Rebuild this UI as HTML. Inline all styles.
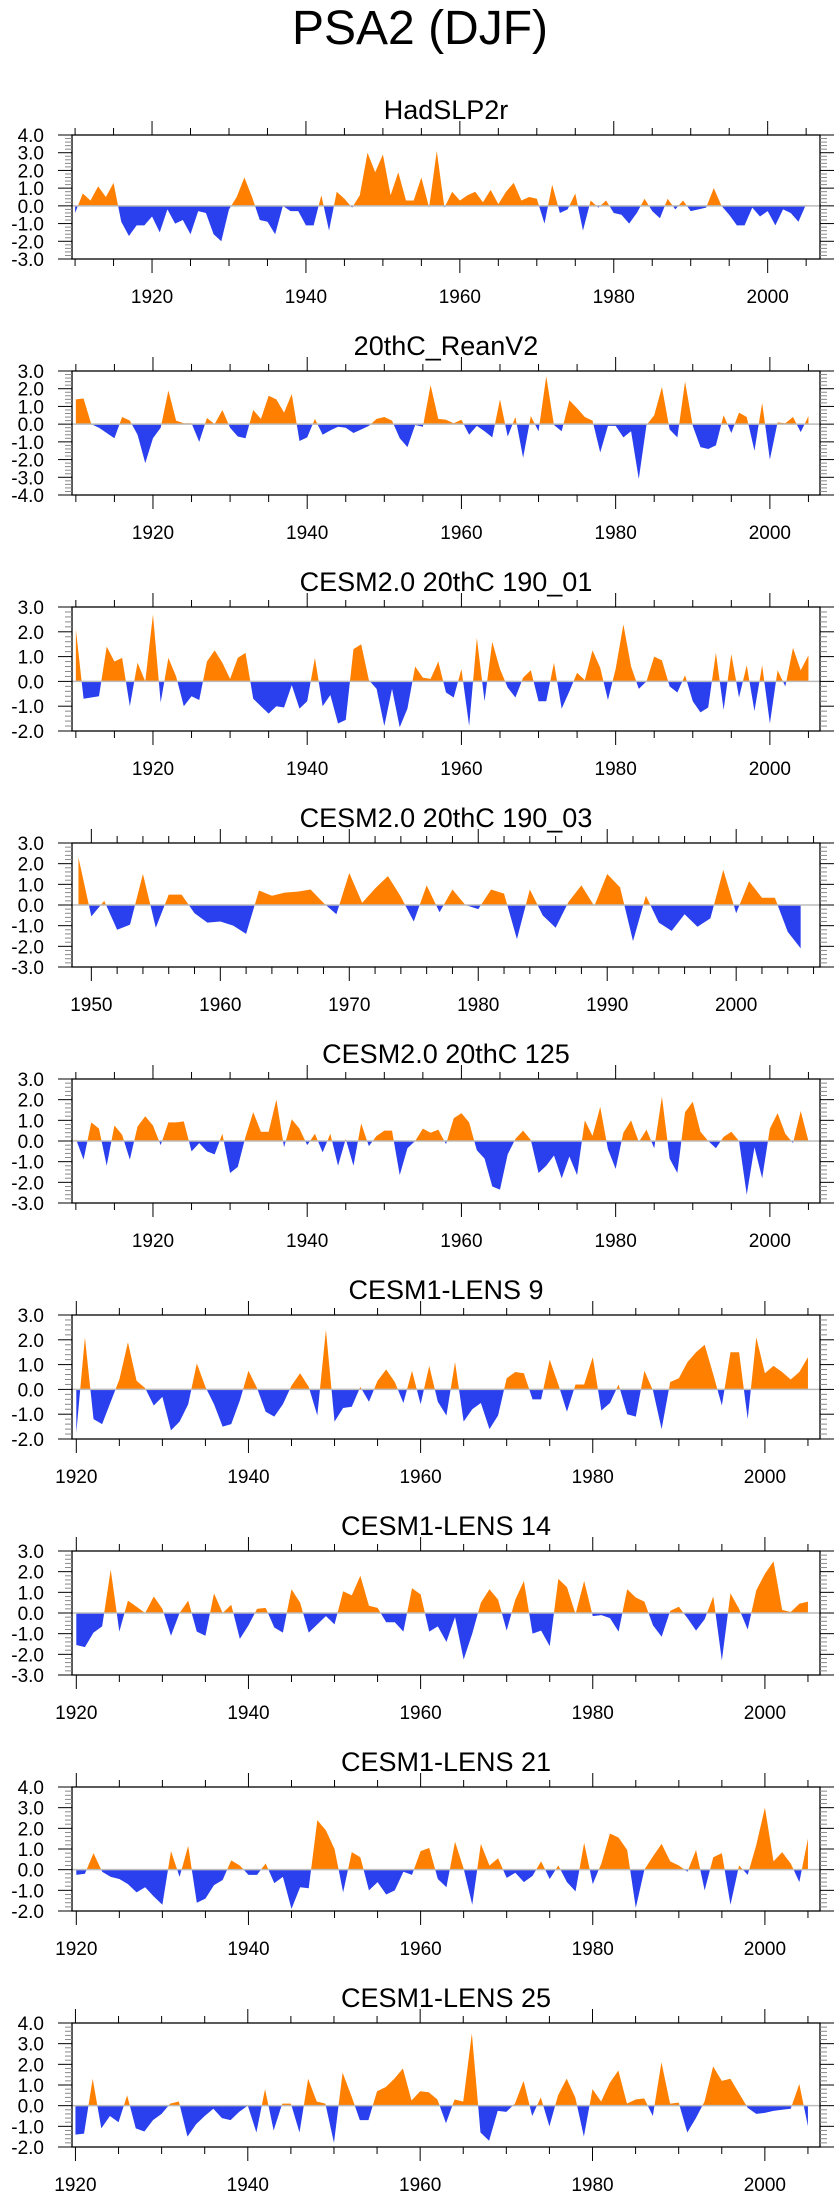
<!DOCTYPE html>
<html><head><meta charset="utf-8"><title>PSA2 (DJF)</title>
<style>
html,body{margin:0;padding:0;background:#fff;}
svg{display:block;font-family:"Liberation Sans",sans-serif;}
</style></head>
<body>
<svg id="chart" width="840" height="2200" viewBox="0 0 840 2200" xmlns="http://www.w3.org/2000/svg">
<text x="420" y="44" font-size="48" text-anchor="middle">PSA2 (DJF)</text>
</svg>
<script>
// ---- data (one value per DJF season) ----
const titles = ["HadSLP2r","20thC_ReanV2","CESM2.0 20thC 190_01","CESM2.0 20thC 190_03","CESM2.0 20thC 125","CESM1-LENS 9","CESM1-LENS 14","CESM1-LENS 21","CESM1-LENS 25"];
const startYears = [1910,1910,1910,1949,1910,1920,1920,1920,1920];
const yTickMax = [4,3,3,3,3,3,3,4,4];
const yTickMin = [-3,-4,-2,-3,-3,-2,-3,-2,-2];
const xDomainMin = [1909.6,1909.5,1909.5,1948.5,1909.5,1919.5,1919.5,1919.5,1919.6];
const xDomainMax = [2006.8,2006.5,2006.5,2006.5,2006.5,2006.4,2006.4,2006.4,2006.4];
const xMajorStep = [20,20,20,10,20,20,20,20,20];
const xMinorStep = [5,5,5,2,5,5,5,5,5];
const xLabelStart = [1920,1920,1920,1950,1920,1920,1920,1920,1920];

const hadValues = [-0.4,0.7,0.3,1.1,0.5,1.3,-0.9,-1.7,-1.1,-1.1,-0.6,-1.5,-0.2,-1.0,-0.8,-1.6,-0.3,-0.4,-1.6,-2.0,-0.2,0.5,1.6,0.5,-0.8,-0.9,-1.6,0.0,-0.3,-0.3,-1.1,-1.1,0.6,-1.4,0.8,0.4,-0.1,0.6,3.0,1.9,2.9,0.6,1.9,0.3,0.3,1.6,-0.1,3.1,-0.1,0.8,0.3,0.6,0.8,0.2,0.9,0.1,0.8,1.3,0.3,0.5,0.4,-1.0,1.2,-0.4,-0.2,0.7,-1.4,0.3,-0.1,0.3,-0.4,-0.5,-1.0,-0.4,0.4,-0.3,-0.7,0.4,-0.2,0.3,-0.3,-0.2,-0.1,1.0,0.0,-0.5,-1.1,-1.1,-0.1,-0.6,-0.3,-1.1,-0.2,-0.4,-0.9,0.1];
const reanValues = [1.4,1.45,0.0,-0.2,-0.5,-0.8,0.4,0.2,-0.6,-2.2,-0.8,-0.2,1.9,0.2,0.05,0.05,-1.0,0.35,0.0,0.8,-0.2,-0.7,-0.8,0.8,0.3,1.6,1.4,0.65,1.7,-0.95,-0.75,0.3,-0.6,-0.35,-0.15,-0.2,-0.5,-0.3,-0.1,0.3,0.4,0.2,-0.8,-1.3,-0.05,-0.15,2.2,0.3,0.25,0.05,0.25,-0.6,-0.1,-0.4,-0.75,1.4,-0.7,0.4,-1.9,0.45,-0.4,2.7,-0.05,-0.4,1.35,0.9,0.4,0.2,-1.6,-0.1,-0.1,-0.75,-0.4,-3.1,-0.05,0.5,2.1,-0.3,-0.75,2.4,-0.1,-1.3,-1.4,-1.2,0.5,-0.5,0.65,0.4,-1.5,1.2,-2.0,0.1,0.05,0.4,-0.45,0.45];
const cesm2Run01Values = [2.1,-0.7,-0.65,-0.6,1.4,0.8,0.95,-1.0,0.75,0.0,2.7,-0.85,0.95,0.2,-1.0,-0.6,-0.75,0.8,1.25,0.75,0.1,0.95,1.15,-0.7,-1.0,-1.3,-1.0,-1.05,-0.15,-1.1,-0.8,0.95,-1.0,-0.55,-1.7,-1.55,1.3,1.5,0.05,-0.3,-1.8,-0.3,-1.85,-1.1,0.6,0.15,0.1,0.8,-0.45,-0.65,0.5,-1.8,1.75,-0.8,1.6,0.5,-0.25,-0.65,0.15,0.45,-0.8,-0.8,0.75,-1.1,-0.4,0.35,0.05,1.25,0.55,-0.75,0.5,2.3,0.6,-0.3,0.0,1.0,0.85,-0.2,-0.45,0.25,-0.8,-1.25,-1.05,1.15,-1.15,1.1,-0.65,0.65,-1.2,0.65,-1.7,0.45,-0.2,1.35,0.45,1.05];
const cesm2Run03Values = [2.3,-0.55,0.2,-1.2,-0.95,1.5,-1.1,0.5,0.5,-0.4,-0.85,-0.8,-1.0,-1.4,0.7,0.45,0.6,0.65,0.75,0.1,-0.45,1.55,0.1,0.8,1.4,0.4,-0.8,0.95,-0.35,0.75,0.0,-0.2,0.75,0.55,-1.65,0.75,-0.5,-1.1,0.15,0.95,-0.05,1.5,0.85,-1.75,0.45,-0.85,-1.25,-0.45,-1.05,-0.65,1.7,-0.4,1.15,0.35,0.35,-1.3,-2.1];
const cesm2Run125Values = [0.1,-0.9,0.9,0.6,-1.2,0.75,0.3,-0.9,0.7,1.2,0.75,-0.2,0.9,0.9,0.95,-0.5,-0.1,-0.5,-0.65,0.35,-1.55,-1.25,0.2,1.4,0.45,0.45,2.0,-0.3,1.05,0.6,-0.2,0.35,-0.55,0.35,-1.2,0.1,-1.2,0.85,-0.25,0.25,0.5,0.5,-1.65,-0.35,0.0,0.6,0.4,0.55,-0.15,1.1,1.35,0.9,-0.45,-0.85,-2.2,-2.35,-0.65,0.1,0.5,0.05,-1.55,-1.2,-0.7,-1.8,-0.75,-1.65,1.0,0.25,1.65,-0.4,-1.35,0.4,1.0,-0.05,0.55,-0.35,2.15,-0.85,-1.55,1.4,1.9,0.45,0.0,-0.35,0.2,0.45,0.0,-2.6,-0.3,-1.8,0.6,1.35,0.35,-0.1,1.45,0.0];
const lens9Values = [-1.75,2.1,-1.2,-1.4,-0.5,0.4,1.9,0.35,0.05,-0.65,-0.3,-1.65,-1.3,-0.6,1.05,0.1,-0.6,-1.5,-1.4,-0.45,0.75,0.05,-0.9,-1.1,-0.6,0.15,0.65,0.1,-1.05,2.4,-1.3,-0.75,-0.7,0.1,-0.5,0.35,0.8,0.3,-0.55,0.75,-0.6,0.95,-0.5,-1.05,1.1,-1.3,-0.8,-0.55,-1.6,-1.05,0.45,0.7,0.65,-0.4,-0.4,1.2,0.2,-0.9,0.2,0.2,1.3,-0.85,-0.55,0.2,-1.0,-1.1,0.75,-0.05,-1.6,0.3,0.45,1.1,1.5,1.8,0.6,-0.65,1.5,1.5,-1.2,2.1,0.65,0.95,0.7,0.4,0.7,1.3];
const lens14Values = [-1.55,-1.65,-0.95,-0.65,2.1,-0.9,0.6,0.3,0.0,0.8,0.2,-1.1,0.0,0.6,-0.9,-1.1,0.95,0.0,0.4,-1.25,-0.6,0.2,0.25,-0.7,-0.95,1.15,0.5,-0.95,-0.55,-0.15,-0.55,1.05,0.85,1.8,0.35,0.25,-0.45,-0.45,-0.9,1.2,0.9,-0.9,-0.65,-1.4,-0.2,-2.25,-1.0,0.5,1.15,0.65,-0.85,0.65,1.55,-1.0,-0.85,-1.6,1.65,1.25,-0.05,1.55,-0.15,-0.1,-0.25,-0.9,1.15,0.75,0.55,-0.6,-1.15,0.1,0.3,-0.25,-0.85,-0.3,0.8,-2.3,0.95,0.2,-0.8,1.1,1.9,2.5,0.15,0.05,0.45,0.55];
const lens21Values = [-0.25,-0.2,0.8,-0.1,-0.35,-0.45,-0.7,-1.1,-0.85,-1.3,-1.7,0.9,-0.35,1.15,-1.6,-1.4,-0.75,-0.5,0.45,0.2,-0.25,-0.25,0.3,-0.65,-0.35,-1.9,-0.85,-0.9,2.4,1.9,1.0,-1.1,0.85,0.6,-1.0,-0.6,-1.2,-1.0,-0.1,-0.25,0.9,1.05,-0.45,-0.85,1.35,0.05,-1.7,1.25,0.2,0.55,-0.4,-0.15,-0.6,-0.3,0.4,-0.45,0.2,-0.6,-1.05,1.3,-0.7,0.3,1.75,1.55,0.95,-1.85,0.0,0.65,1.25,0.4,0.2,-0.1,0.95,-1.0,0.6,0.8,-1.7,0.2,-0.25,1.2,3.0,0.4,0.85,0.3,-0.6,1.5];
const lens25Values = [-1.4,-1.35,1.3,-1.1,-0.5,-0.8,0.5,-1.1,-1.25,-0.7,-0.4,0.1,0.2,-1.5,-0.9,-0.5,-0.15,-0.6,-0.7,-0.3,0.0,-1.3,0.8,-1.2,0.1,0.1,-1.3,1.3,0.2,0.1,-1.8,1.6,0.5,-0.7,-0.7,0.7,0.9,1.3,1.8,0.25,0.7,0.65,0.3,-0.85,0.3,0.2,3.5,-1.3,-1.7,-0.25,-0.3,0.1,1.2,-0.5,0.4,-1.0,0.5,1.3,0.4,-1.5,0.8,0.2,1.1,1.7,0.1,0.3,0.35,-0.5,2.1,0.1,0.15,-1.3,-0.6,0.2,1.9,1.2,1.3,0.6,-0.1,-0.4,-0.35,-0.25,-0.2,-0.15,1.05,-1.0];

const seriesValues = [hadValues,reanValues,cesm2Run01Values,cesm2Run03Values,cesm2Run125Values,lens9Values,lens14Values,lens21Values,lens25Values];

// ---- layout ----
const NS = "http://www.w3.org/2000/svg";
const svg = document.getElementById("chart");
const boxLeft = 72, boxRight = 820, boxH = 124, firstTop = 135, panelStep = 236;
const ORANGE = "#ff8000", BLUE = "#2a40ee";

function mk(tag, attrs, parent){
  const e = document.createElementNS(NS, tag);
  for (const k in attrs) e.setAttribute(k, attrs[k]);
  (parent || svg).appendChild(e);
  return e;
}
function fmt(v){ return v.toFixed(1); }

for (let p = 0; p < titles.length; p++) {
  const top = firstTop + p * panelStep, bottom = top + boxH;
  const yMax = yTickMax[p], yMin = yTickMin[p];
  const x0 = xDomainMin[p], x1 = xDomainMax[p];
  const xScale = yr => boxLeft + (yr - x0) / (x1 - x0) * (boxRight - boxLeft);
  const yScale = v => top + (yMax - v) / (yMax - yMin) * boxH;

  const g = mk("g", {});
  
  

  const t = mk("text", {x: (boxLeft + boxRight) / 2, y: top - 16, "font-size": 27, "text-anchor": "middle"}, g);
  
  
  t.textContent = titles[p];

  // area fills with zero-crossing interpolation
  const vals = seriesValues[p], sy = startYears[p];
  const pts = [];
  for (let i = 0; i < vals.length; i++) {
    if (i > 0) {
      const a = vals[i - 1], b = vals[i];
      if ((a > 0 && b < 0) || (a < 0 && b > 0)) {
        const f = a / (a - b);
        pts.push([sy + i - 1 + f, 0]);
      }
    }
    pts.push([sy + i, vals[i]]);
  }
  const z = yScale(0);
  const xs = xScale(pts[0][0]), xe = xScale(pts[pts.length - 1][0]);
  let dPos = "M" + xs + "," + z, dNeg = "M" + xs + "," + z;
  for (const [yr, v] of pts) {
    dPos += " L" + xScale(yr).toFixed(2) + "," + yScale(Math.max(v, 0)).toFixed(2);
    dNeg += " L" + xScale(yr).toFixed(2) + "," + yScale(Math.min(v, 0)).toFixed(2);
  }
  dPos += " L" + xe + "," + z + " Z";
  dNeg += " L" + xe + "," + z + " Z";
  const pos = mk("path", {d: dPos, fill: ORANGE, stroke: "none"}, g);
  
  
  const neg = mk("path", {d: dNeg, fill: BLUE, stroke: "none"}, g);
  
  

  const zl = mk("line", {x1: boxLeft, x2: boxRight, y1: z, y2: z, stroke: "#bbbbbb", "stroke-width": 1.5}, g);
  
  

  const box = mk("rect", {x: boxLeft, y: top, width: boxRight - boxLeft, height: boxH, fill: "none", stroke: "#000", "stroke-width": 1.3}, g);
  
  

  // y ticks
  for (let k = Math.round(yMin * 5); k <= Math.round(yMax * 5); k++) {
    const v = k / 5, yy = yScale(v), major = (k % 5 === 0);
    const len = major ? 14 : 7, col = major ? "#000" : "#888";
    mk("line", {x1: boxLeft - len, x2: boxLeft, y1: yy, y2: yy, stroke: col, "stroke-width": 1}, g);
    mk("line", {x1: boxRight, x2: boxRight + len, y1: yy, y2: yy, stroke: col, "stroke-width": 1}, g);
    if (major) {
      const lab = mk("text", {x: 44, y: yy + 7, "font-size": 19, "text-anchor": "end"}, g);
      
      
      lab.textContent = fmt(v);
    }
  }
  // x ticks
  const ms = xMinorStep[p];
  for (let yr = Math.ceil(x0 / ms) * ms; yr <= x1; yr += ms) {
    const xx = xScale(yr), major = ((yr - xLabelStart[p]) % xMajorStep[p] === 0);
    const len = major ? 14 : 7;
    mk("line", {x1: xx, x2: xx, y1: top - len, y2: top, stroke: "#000", "stroke-width": 1}, g);
    mk("line", {x1: xx, x2: xx, y1: bottom, y2: bottom + len, stroke: "#000", "stroke-width": 1}, g);
    if (major) {
      const lab = mk("text", {x: xx, y: bottom + 44, "font-size": 19, "text-anchor": "middle"}, g);
      
      
      lab.textContent = String(yr);
    }
  }
}
</script>
</body></html>
